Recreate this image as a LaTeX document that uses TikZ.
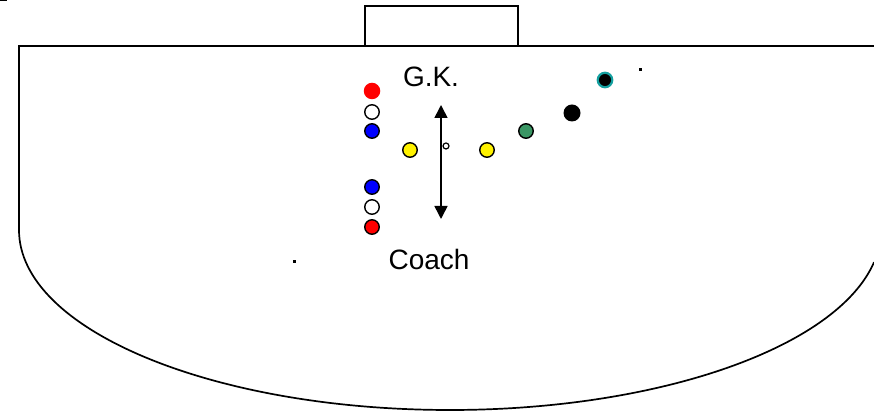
\documentclass[tikz,border=0pt]{standalone}
\usepackage{fontspec}
\setmainfont{Liberation Sans}
\usetikzlibrary{arrows.meta}
\begin{document}
\begin{tikzpicture}[x=1pt,y=1pt,
  line/.style={line width=1.7pt, line join=miter},
  player/.style={circle, draw=black, line width=1.4pt, minimum size=14.5pt, inner sep=0pt},
  plain/.style={circle, minimum size=16.5pt, inner sep=0pt},
  tinydot/.style={rectangle, fill=black, minimum size=3pt, inner sep=0pt},
  lbl/.style={font=\fontsize{28}{30}\selectfont, inner sep=0pt}]
\useasboundingbox (0,0) rectangle (874,411);
\definecolor{seag}{RGB}{58,150,100}
\definecolor{tealring}{RGB}{20,160,160}
% field
\draw[line] (874,365) -- (19,365) -- (19,181)
  arc[start angle=180, end angle=349.7, x radius=431, y radius=180];
% goal
\draw[line] (365,365) -- (365,405) -- (518,405) -- (518,365);
% corner tick
\draw[line width=1.2pt] (0,410.5) -- (7,410.5);
% players
\node[plain, fill=red] (r1) at (372,320) {};
\node[player, fill=white] (w1) at (372,299) {};
\node[player, fill=blue] (b1) at (372,280) {};
\node[player, fill=blue] (b2) at (372,224) {};
\node[player, fill=white] (w2) at (372,204) {};
\node[player, fill=red] (r2) at (372,184) {};
\node[player, fill=yellow] (y1) at (410,261) {};
\node[player, fill=yellow] (y2) at (487,261) {};
\node[circle, draw=black, line width=1.2pt, minimum size=6pt, inner sep=0pt] (ball) at (446,265) {};
\node[player, fill=seag] (g1) at (526,280) {};
\node[plain, fill=black, minimum size=17pt] (k1) at (572,298) {};
\node[circle, draw=tealring, fill=black, line width=2.2pt, minimum size=14.5pt, inner sep=0pt] (t1) at (605,331) {};
\node[tinydot] (d1) at (640,341) {};
\node[tinydot] (d2) at (294,149) {};
% labels
\node[lbl] (gk) at (431,334) {G.K.};
\node[lbl] (coach) at (429,152) {Coach};
% arrow
\coordinate (atop) at (441,306);
\coordinate (abot) at (441,192);
\draw[line width=1.6pt, {Triangle[length=13pt,width=13pt]}-{Triangle[length=13pt,width=13pt]}] (atop) -- (abot);
\end{tikzpicture}
\end{document}
